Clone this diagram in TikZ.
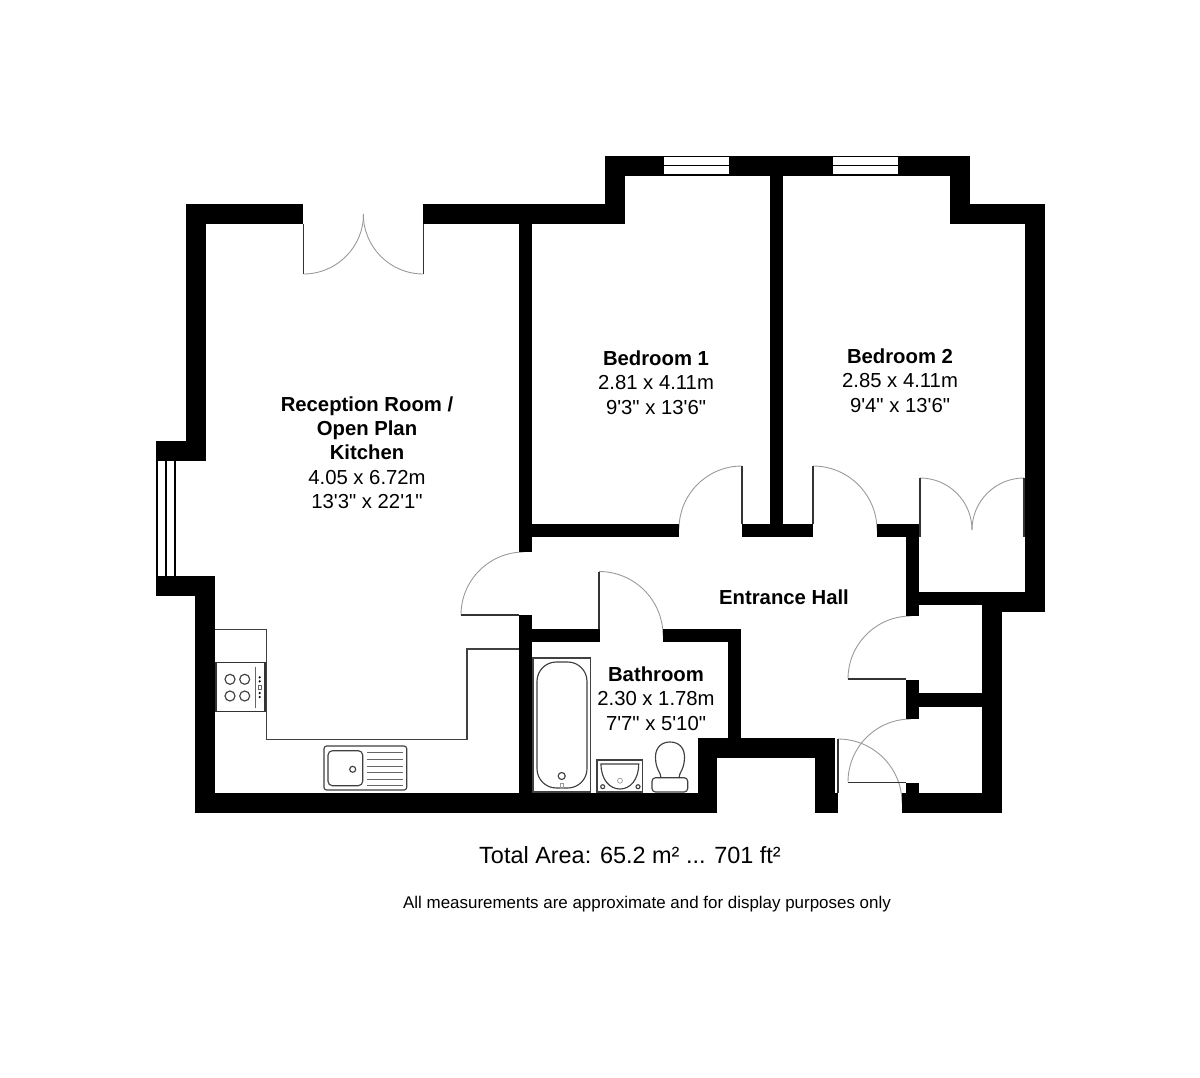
\documentclass[tikz,border=0pt]{standalone}
\usepackage{fontspec}
\newfontfamily\planfont{Liberation Sans}
\usepackage{tikz}

\begin{document}
\begin{tikzpicture}[x=0.02cm,y=-0.02cm,
	wall/.style={fill=black},
	leaf/.style={draw=black!80,line width=0.8pt},
	swing/.style={draw=black!40,line width=0.5pt},
	fitting/.style={draw=black!75,line width=0.65pt},
	roomtext/.style={align=center,inner sep=0pt,font=\planfont\fontsize{11.55}{13.7}\selectfont}]
\useasboundingbox (0,0) rectangle (1200,1078);
\fill[white] (0,0) rectangle (1200,1078);

% door swings
\draw[swing] (303.5,274) arc[start angle=90,end angle=0,radius=60];
\draw[swing] (423.3,274) arc[start angle=90,end angle=180,radius=60];
\draw[swing] (679,529) arc[start angle=180,end angle=270,radius=63];
\draw[swing] (813,466) arc[start angle=270,end angle=360,radius=64];
\draw[swing] (920,478) arc[start angle=270,end angle=360,radius=52];
\draw[swing] (1024,478) arc[start angle=270,end angle=180,radius=52];
\draw[swing] (461,615) arc[start angle=180,end angle=270,radius=63];
\draw[swing] (599,571.5) arc[start angle=270,end angle=360,radius=64];
\draw[swing] (848,679) arc[start angle=180,end angle=270,radius=63];
\draw[swing] (848,782) arc[start angle=180,end angle=270,radius=63];
\draw[swing] (838,739) arc[start angle=270,end angle=360,radius=64];

% walls
\fill[wall] (186,204) rectangle (303,224);
\fill[wall] (186,204) rectangle (206,461);
\fill[wall] (156,441) rectangle (206,461);
\fill[wall] (156,576) rectangle (215,596);
\fill[wall] (195,576) rectangle (215,813);
\fill[wall] (195,793) rectangle (717,813);
\fill[wall] (423,204) rectangle (625,224);
\fill[wall] (605,156) rectangle (625,224);
\fill[wall] (605,156) rectangle (970,176);
\fill[wall] (950,156) rectangle (970,224);
\fill[wall] (950,204) rectangle (1045,224);
\fill[wall] (1025,204) rectangle (1045,612);
\fill[wall] (906,592) rectangle (1025,605);
\fill[wall] (982,592) rectangle (1045,612);
\fill[wall] (982,592) rectangle (1002,813);
\fill[wall] (906,524) rectangle (919,616);
\fill[wall] (519,224) rectangle (532,552);
\fill[wall] (519,524) rectangle (679,537);
\fill[wall] (742,524) rectangle (813,537);
\fill[wall] (877,524) rectangle (920,537);
\fill[wall] (770,176) rectangle (783,537);
\fill[wall] (519,615) rectangle (532,813);
\fill[wall] (532,629) rectangle (600,642);
\fill[wall] (663,629) rectangle (741,642);
\fill[wall] (728,629) rectangle (741,757);
\fill[wall] (698,738) rectangle (835,758);
\fill[wall] (698,738) rectangle (717,813);
\fill[wall] (815,738) rectangle (835,813);
\fill[wall] (815,793) rectangle (838,813);
\fill[wall] (906,680) rectangle (919,719);
\fill[wall] (919,693) rectangle (982,707);
\fill[wall] (906,783) rectangle (919,813);
\fill[wall] (902,793) rectangle (1002,813);

% windows
\fill[white] (664,157) rectangle (729,174);
\draw[line width=0.9pt] (664,165.7) -- (729,165.7);
\fill[white] (833,157) rectangle (898,174);
\draw[line width=0.9pt] (833,165.7) -- (898,165.7);
\draw[line width=0.8pt] (157,461) -- (157,576);
\draw[line width=0.8pt] (166,461) -- (166,576);
\draw[line width=0.8pt] (175,461) -- (175,576);

% door leaves
\draw[leaf] (303.5,224) -- (303.5,274);
\draw[leaf] (423.3,224) -- (423.3,274);
\draw[leaf] (742,466) -- (742,524);
\draw[leaf] (813,466) -- (813,524);
\draw[leaf] (920,478) -- (920,537);
\draw[leaf] (1024,478) -- (1024,537);
\draw[leaf] (461,615) -- (519,615);
\draw[leaf] (599,571.5) -- (599,629);
\draw[leaf] (848,679) -- (906,679);
\draw[leaf] (848,782.5) -- (906,782.5);
\draw[leaf] (838,739) -- (838,793);

% kitchen
\draw[fitting] (215,629.3) -- (266.7,629.3) -- (266.7,739.3) -- (467,739.3) -- (467,649) -- (519,649);
\draw[draw=black!80,fill=white,line width=0.8pt] (216,662.7) rectangle (265,711.7);
\draw[fitting] (230,679.3) circle[radius=5];
\draw[fitting] (244.7,679.3) circle[radius=5];
\draw[fitting] (230,696) circle[radius=5];
\draw[fitting] (244.7,696) circle[radius=5];
\draw[black!60,line width=0.6pt] (255.7,666.7) -- (255.7,708);
\fill (259.7,677.3) circle[radius=1.2];
\fill (259.7,681.3) circle[radius=1.2];
\draw[black!60,line width=0.3pt] (258.2,685) rectangle (261.2,689);
\fill (259.7,693) circle[radius=1.2];
\fill (259.7,697) circle[radius=1.2];
\draw[fitting,rounded corners=1.5pt] (324,746) rectangle (406.7,790);
\draw[fitting,rounded corners=2.5pt] (328,750.7) rectangle (362.7,785.7);
\draw[fitting] (352.7,769.3) circle[radius=3];
\draw[black!60,line width=0.5pt] (367.3,752.7) -- (403.3,752.7);
\draw[black!60,line width=0.5pt] (367.3,759.3) -- (403.3,759.3);
\draw[black!60,line width=0.5pt] (367.3,766) -- (403.3,766);
\draw[black!60,line width=0.5pt] (367.3,772.3) -- (403.3,772.3);
\draw[black!60,line width=0.5pt] (367.3,779) -- (403.3,779);
\draw[black!60,line width=0.5pt] (367.3,785.7) -- (403.3,785.7);

% bathroom
\draw[fitting] (533,658) rectangle (590.7,792);
\draw[fitting,rounded corners=11pt] (537,662) rectangle (587,788);
\draw[fitting] (561.7,776) circle[radius=3.5];
\draw[black!40,line width=0.4pt] (560.2,783) rectangle (563.2,788);
\draw[fitting] (597,760) rectangle (642.7,792);
\draw[fitting] (601,764) -- (638.7,764) .. controls (638.7,780) and (630,789) .. (620,789) .. controls (610,789) and (601,780) .. (601,764) -- cycle;
\draw[fitting] (602.7,786.7) circle[radius=2];
\draw[fitting] (638,786.7) circle[radius=2];
\draw[black!40,line width=0.4pt] (620,780.7) circle[radius=2.5];
\draw[fitting,rounded corners=2pt] (652,777.7) rectangle (687.7,792);
\draw[fitting] (661,778) .. controls (661,772) and (655.5,770) .. (655.5,757) .. controls (655.5,747) and (662,742) .. (670,742) .. controls (678,742) and (684.5,747) .. (684.5,757) .. controls (684.5,770) and (679,772) .. (679,778);

% labels
\node[roomtext] (reception) at (367,452.7) {\textbf{Reception Room /}\\\textbf{Open Plan}\\\textbf{Kitchen}\\4.05 x 6.72m\\13'3" x 22'1"};
\node[roomtext] (bedroom1) at (656,382.7) {\textbf{Bedroom 1}\\2.81 x 4.11m\\9'3" x 13'6"};
\node[roomtext] (bedroom2) at (900,380.7) {\textbf{Bedroom 2}\\2.85 x 4.11m\\9'4" x 13'6"};
\node[roomtext] (bathroom) at (656,698.7) {\textbf{Bathroom}\\2.30 x 1.78m\\7'7" x 5'10"};
\node[roomtext] (hall) at (784,597.7) {\textbf{Entrance Hall}};
\node[inner sep=0pt,font=\planfont\fontsize{13.35}{15}\selectfont] (total) at (630,855) {Total Area: 65.2 m² ... 701 ft²};
\node[inner sep=0pt,font=\planfont\fontsize{9.64}{11}\selectfont] (disclaimer) at (647,904.5) {All measurements are approximate and for display purposes only};
\end{tikzpicture}
\end{document}
